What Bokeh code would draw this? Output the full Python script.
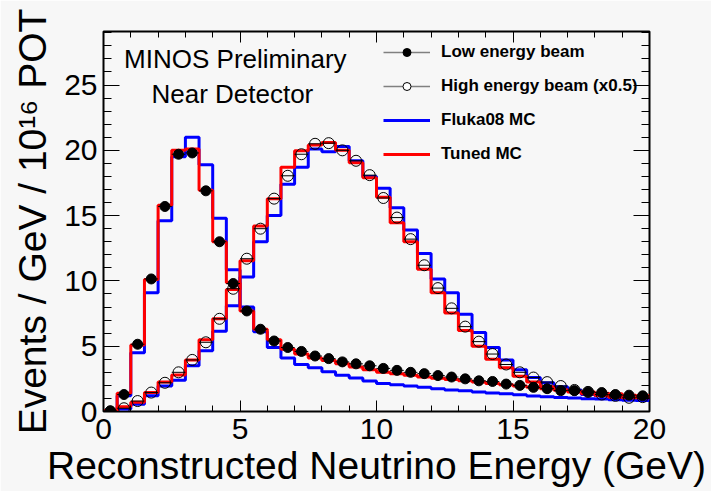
import numpy as np
from bokeh.plotting import figure
from bokeh.models import (Range1d, LinearAxis, SingleIntervalTicker, Legend, LegendItem,
                          Label, CustomJSTickFormatter)
from bokeh.embed import file_html
from bokeh.resources import INLINE

# ---------------- data ----------------
bin_width = 0.5
bin_edges = [i * bin_width for i in range(41)]          # 0 ... 20 GeV, 40 bins
bin_centers = [e + bin_width / 2 for e in bin_edges[:-1]]

low_energy_data = [0.05, 1.3, 5.15, 10.15, 15.7, 19.7, 19.8, 16.9, 13.0, 9.8,
                   7.7, 6.3, 5.4, 4.9, 4.6, 4.25, 4.05, 3.8, 3.65, 3.5,
                   3.3, 3.15, 3.0, 2.9, 2.75, 2.64, 2.5, 2.35, 2.3, 2.1,
                   2.0, 1.85, 1.75, 1.6, 1.6, 1.5, 1.45, 1.3, 1.25, 1.2]

high_energy_data = [0.0, 0.25, 0.8, 1.45, 2.2, 3.0, 3.95, 5.3, 7.1, 9.4,
                    11.7, 14.0, 16.3, 18.05, 19.7, 20.5, 20.55, 20.0, 19.2, 18.1,
                    16.35, 14.85, 13.2, 11.2, 9.45, 7.9, 6.5, 5.35, 4.4, 3.6,
                    3.0, 2.6, 2.25, 1.95, 1.65, 1.5, 1.3, 1.2, 1.05, 1.1]

low_energy_tuned = [0.05, 1.4, 5.1, 10.1, 15.8, 20.0, 20.1, 16.95, 13.0, 9.85,
                    7.7, 6.3, 5.5, 4.77, 4.4, 4.1, 3.9, 3.65, 3.4, 3.2,
                    3.0, 2.9, 2.77, 2.65, 2.55, 2.45, 2.35, 2.25, 2.15, 2.05,
                    1.95, 1.85, 1.75, 1.65, 1.55, 1.5, 1.4, 1.35, 1.25, 1.2]

low_energy_fluka = [0.05, 1.2, 4.5, 9.1, 14.6, 19.5, 21.0, 18.9, 14.8, 10.85,
                    8.0, 6.1, 4.9, 4.1, 3.6, 3.35, 3.05, 2.77, 2.56, 2.33,
                    2.15, 2.05, 1.95, 1.85, 1.75, 1.65, 1.58, 1.5, 1.42, 1.35,
                    1.28, 1.18, 1.12, 1.08, 1.03, 0.98, 0.95, 0.9, 0.87, 0.85]

high_energy_tuned = [0.05, 0.36, 0.7, 1.45, 2.25, 2.8, 3.95, 5.5, 7.1, 9.35,
                     11.55, 14.2, 16.3, 18.7, 19.97, 20.4, 20.6, 20.0, 19.05, 17.9,
                     16.4, 14.45, 13.0, 10.9, 9.1, 7.55, 6.2, 5.0, 4.0, 3.35,
                     2.7, 2.25, 1.9, 1.65, 1.5, 1.35, 1.23, 1.1, 1.05, 1.05]

high_energy_fluka = [0.05, 0.2, 0.55, 1.2, 1.95, 2.4, 3.5, 4.65, 6.15, 8.1,
                     10.3, 13.0, 15.0, 17.4, 18.7, 20.1, 19.9, 20.3, 19.2, 18.0,
                     17.1, 15.6, 13.9, 12.1, 10.15, 9.1, 7.45, 6.05, 4.9, 3.95,
                     3.2, 2.6, 2.2, 1.9, 1.65, 1.3, 1.2, 1.15, 1.0, 0.9]

FONT = "Liberation Sans"
BG = "#f7f7f7"
NAN = float("nan")

p = figure(width=711, height=491, x_range=Range1d(0, 20), y_range=Range1d(0, 29.1),
           output_backend="svg", toolbar_location=None,
           min_border_left=103, min_border_right=62, min_border_top=31, min_border_bottom=80)
p.background_fill_color = BG
p.border_fill_color = BG
p.outline_line_color = "black"
p.outline_line_width = 2
p.grid.visible = False


def hist_y(vals):
    return list(vals) + [vals[-1]]


# MC histograms (Fluka first, tuned on top)
r_fluka_le = p.step(x=bin_edges, y=hist_y(low_energy_fluka), mode="after",
                    line_color="#0000ff", line_width=3)
r_fluka_he = p.step(x=bin_edges, y=hist_y(high_energy_fluka), mode="after",
                    line_color="#0000ff", line_width=3)
r_tuned_le = p.step(x=bin_edges, y=hist_y(low_energy_tuned), mode="after",
                    line_color="#ff0000", line_width=3)
r_tuned_he = p.step(x=bin_edges, y=hist_y(high_energy_tuned), mode="after",
                    line_color="#ff0000", line_width=3)

# data points with horizontal error bars
p.segment(x0=bin_edges[:-1], x1=bin_edges[1:], y0=high_energy_data, y1=high_energy_data,
          line_color="black", line_width=1)
r_he = p.scatter(x=bin_centers, y=high_energy_data, marker="circle", size=11,
                 fill_color=None, line_color="black", line_width=1)
p.segment(x0=bin_edges[:-1], x1=bin_edges[1:], y0=low_energy_data, y1=low_energy_data,
          line_color="black", line_width=1)
r_le = p.scatter(x=bin_centers, y=low_energy_data, marker="circle", size=10,
                 fill_color="black", line_color="black")

# legend-only proxies (NaN data: nothing drawn inside the plot)
r_gray = p.line(x=[NAN, NAN], y=[NAN, NAN], line_color="#808080", line_width=1.5)
r_le_leg = p.scatter(x=[NAN], y=[NAN], marker="circle", size=10,
                     fill_color="black", line_color="black")
r_he_leg = p.scatter(x=[NAN], y=[NAN], marker="circle", size=11, fill_color="white",
                     line_color="black", line_width=1)

legend = Legend(items=[
    LegendItem(label="Low energy beam", renderers=[r_gray, r_le_leg]),
    LegendItem(label="High energy beam (x0.5)", renderers=[r_gray, r_he_leg]),
    LegendItem(label="Fluka08 MC", renderers=[r_fluka_le]),
    LegendItem(label="Tuned MC", renderers=[r_tuned_le]),
], location=(280, 247), orientation="vertical",
    glyph_width=47, glyph_height=20, label_height=20, label_standoff=11, spacing=14,
    padding=0, margin=0, border_line_color=None, background_fill_alpha=0,
    label_text_font=FONT, label_text_font_style="bold", label_text_font_size="17px",
    label_text_color="black")
p.add_layout(legend)

# annotations
p.add_layout(Label(x=4.83, y=27.0, text="MINOS Preliminary", text_align="center",
                   text_baseline="middle", text_font=FONT, text_font_size="26px",
                   text_color="black"))
p.add_layout(Label(x=4.72, y=24.3, text="Near Detector", text_align="center",
                   text_baseline="middle", text_font=FONT, text_font_size="26px",
                   text_color="black"))


def style_axis(ax, major_len, minor_len):
    ax.axis_line_color = None
    ax.major_tick_in = major_len
    ax.major_tick_out = 0
    ax.minor_tick_in = minor_len
    ax.minor_tick_out = 0
    ax.major_tick_line_color = "black"
    ax.minor_tick_line_color = "black"
    ax.major_tick_line_width = 1
    ax.minor_tick_line_width = 1


xax = p.xaxis[0]
xax.ticker = SingleIntervalTicker(interval=5, num_minor_ticks=5)
style_axis(xax, 11, 6)
xax.axis_label = "Reconstructed Neutrino Energy (GeV)"
xax.axis_label_text_font = FONT
xax.axis_label_text_font_style = "normal"
xax.axis_label_text_font_size = "39px"
xax.axis_label_text_color = "black"
xax.axis_label_standoff = 2
xax.major_label_text_font = FONT
xax.major_label_text_font_size = "30px"
xax.major_label_standoff = 7
xax.major_label_text_color = "black"

yax = p.yaxis[0]
yax.ticker = SingleIntervalTicker(interval=5, num_minor_ticks=5)
style_axis(yax, 16, 8)
yax.axis_label = "Events / GeV / 10¹⁶ POT"
yax.axis_label_text_font = FONT
yax.axis_label_text_font_style = "normal"
yax.axis_label_text_font_size = "39px"
yax.axis_label_text_color = "black"
yax.axis_label_standoff = 7
yax.major_label_text_font = FONT
yax.major_label_text_font_size = "30px"
yax.major_label_standoff = 6
yax.major_label_text_color = "black"

empty = CustomJSTickFormatter(code="return ''")
top = LinearAxis(ticker=SingleIntervalTicker(interval=5, num_minor_ticks=5), formatter=empty)
style_axis(top, 11, 6)
top.major_label_standoff = 0
p.add_layout(top, "above")
right = LinearAxis(ticker=SingleIntervalTicker(interval=5, num_minor_ticks=5), formatter=empty)
style_axis(right, 16, 8)
right.major_label_standoff = 0
p.add_layout(right, "right")

open("out.html", "w").write(file_html(p, INLINE))
